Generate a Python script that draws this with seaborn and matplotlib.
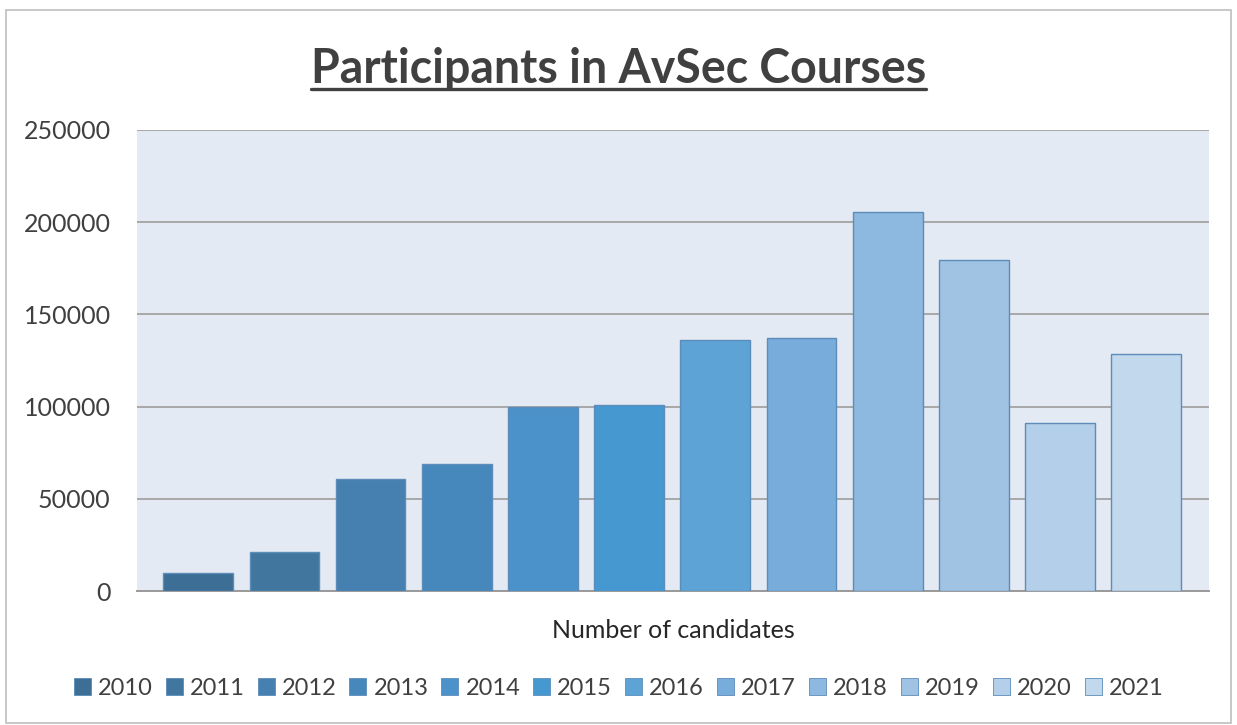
import matplotlib
matplotlib.use("Agg")
import matplotlib.pyplot as plt
import seaborn as sns
import pandas as pd
from matplotlib.lines import Line2D
from matplotlib.patches import Rectangle

# Data
years = ["2010", "2011", "2012", "2013", "2014", "2015",
         "2016", "2017", "2018", "2019", "2020", "2021"]
participants = [10000, 21000, 61000, 69000, 100000, 101000,
                136000, 137000, 205500, 179500, 91000, 128500]
bar_colors = ["#3d6e96", "#41779f", "#4580b0", "#4688bc", "#4a92c9", "#4598d0",
              "#5da3d6", "#78acdb", "#8db8df", "#a0c2e3", "#b3cfe9", "#c2d8ec"]
y_ticks = [0, 50000, 100000, 150000, 200000, 250000]

df = pd.DataFrame({"Year": years, "Participants": participants})

sns.set_style("white")
plt.rcParams["font.family"] = ["Lato", "DejaVu Sans"]

fig = plt.figure(figsize=(12.37, 7.25), dpi=100)
ax = fig.add_axes([0.1108, 0.1848, 0.8666, 0.6359])
ax.set_facecolor("#e4eaf3")

sns.barplot(data=df, x="Year", y="Participants", hue="Year",
            palette=bar_colors, saturation=1, width=0.81, edgecolor="#5b8cba",
            linewidth=1.0, ax=ax, zorder=3)

ax.set_xlim(-0.71, 11.73)
ax.set_ylim(0, 250000)
ax.set_yticks(y_ticks)
ax.set_yticklabels([str(t) for t in y_ticks], fontsize=18, color="#404040")
ax.tick_params(axis="y", length=0, pad=19)
ax.set_xticks([])
ax.set_xlabel("Number of candidates", fontsize=18, color="#262626", labelpad=20)
ax.set_ylabel("")
ax.yaxis.grid(True, color="#a8a8a8", linewidth=1.4, zorder=0)
ax.set_axisbelow(True)
for side in ["top", "left", "right"]:
    ax.spines[side].set_visible(False)
ax.spines["bottom"].set_color("#9a9a9a")
ax.spines["bottom"].set_linewidth(1.4)

# legend along the bottom
handles = [Rectangle((0, 0), 1, 1, facecolor=c, edgecolor="#5b8cba", linewidth=0.6)
           for c in bar_colors]
if ax.get_legend() is not None:
    ax.get_legend().remove()
fig.legend(handles, years, loc="center", bbox_to_anchor=(0.5, 0.051), ncol=12,
           frameon=False, fontsize=17, handlelength=0.72, handleheight=0.72,
           handletextpad=0.3, columnspacing=0.55, labelcolor="#404040")

# title with underline
title = fig.text(0.5, 0.905, "Participants in AvSec Courses", ha="center",
                 va="center", fontsize=33.5, fontweight="bold", color="#404040")
fig.canvas.draw()
bb = title.get_window_extent(fig.canvas.get_renderer()).transformed(fig.transFigure.inverted())
fig.add_artist(Line2D([bb.x0, bb.x1], [bb.y0 + 0.003, bb.y0 + 0.003],
                      color="#404040", linewidth=2.4, transform=fig.transFigure))

# outer chart border
fig.add_artist(Rectangle((0.005, 0.003), 0.99, 0.983, transform=fig.transFigure,
                         fill=False, edgecolor="#bfbfbf", linewidth=1.2))

fig.savefig("out.png", dpi=100, facecolor="white")
